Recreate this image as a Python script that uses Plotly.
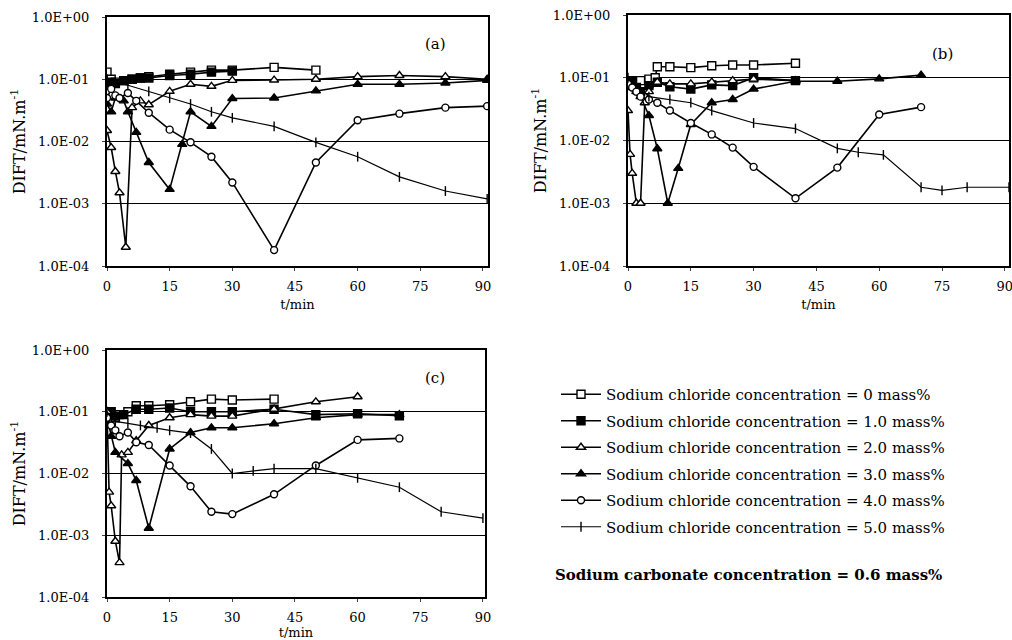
import plotly.graph_objects as go

names = ["Sodium chloride concentration = 0 mass%",
         "Sodium chloride concentration = 1.0 mass%",
         "Sodium chloride concentration = 2.0 mass%",
         "Sodium chloride concentration = 3.0 mass%",
         "Sodium chloride concentration = 4.0 mass%",
         "Sodium chloride concentration = 5.0 mass%"]

# ---- panel (a) ----
a_t0 = [0, 1, 2, 4, 6, 8, 10, 15, 20, 25, 30, 40, 50]
a_v0 = [0.13, 0.1, 0.09, 0.095, 0.1, 0.105, 0.11, 0.12, 0.13, 0.14, 0.14, 0.155, 0.14]
a_t1 = [0, 1, 2, 4, 6, 8, 10, 15, 20, 25, 30]
a_v1 = [0.08, 0.09, 0.085, 0.095, 0.1, 0.105, 0.105, 0.115, 0.12, 0.13, 0.135]
a_t2 = [0, 1, 2, 3, 4.5, 6, 8, 10, 15, 20, 25, 30, 40, 50, 60, 70, 81, 91]
a_v2 = [0.015, 0.008, 0.0033, 0.0015, 0.0002, 0.035, 0.045, 0.039, 0.064, 0.083, 0.077, 0.096, 0.097, 0.1, 0.11, 0.115, 0.11, 0.1]
a_t3 = [0, 1, 2, 4, 5, 7, 10, 15, 18, 20, 25, 30, 40, 50, 60, 70, 81, 91]
a_v3 = [0.04, 0.03, 0.05, 0.045, 0.03, 0.014, 0.0046, 0.0017, 0.009, 0.03, 0.0175, 0.049, 0.05, 0.065, 0.083, 0.083, 0.087, 0.096]
a_t4 = [0, 1, 2, 3, 5, 7, 10, 15, 20, 25, 30, 40, 50, 60, 70, 81, 91]
a_v4 = [0.05, 0.07, 0.055, 0.05, 0.06, 0.045, 0.029, 0.0155, 0.0097, 0.0057, 0.0022, 0.00018, 0.0046, 0.022, 0.028, 0.035, 0.037]
a_t5 = [0, 2, 5, 10, 15, 20, 25, 30, 40, 50, 60, 70, 81, 91]
a_v5 = [0.1, 0.09, 0.08, 0.064, 0.05, 0.04, 0.03, 0.024, 0.0175, 0.0097, 0.0057, 0.0027, 0.0016, 0.0012]

# ---- panel (b) ----
b_t0 = [0, 1, 2, 3, 5, 6.5, 7, 10, 15, 20, 25, 30, 40]
b_v0 = [0.09, 0.08, 0.085, 0.09, 0.095, 0.1, 0.15, 0.15, 0.145, 0.155, 0.16, 0.16, 0.17]
b_t1 = [0, 1, 2, 3, 5, 7, 10, 15, 20, 25, 30, 40]
b_v1 = [0.08, 0.09, 0.07, 0.06, 0.075, 0.085, 0.072, 0.066, 0.077, 0.075, 0.1, 0.09]
b_t2 = [0, 0.5, 1, 2, 3, 4, 5, 7, 10, 15, 20, 25, 30, 40]
b_v2 = [0.03, 0.006, 0.003, 0.001, 0.001, 0.04, 0.06, 0.085, 0.08, 0.08, 0.085, 0.09, 0.095, 0.09]
b_t3 = [0, 1, 2, 3, 5, 7, 9.5, 12, 15, 20, 25, 30, 40, 50, 60, 70]
b_v3 = [0.08, 0.07, 0.06, 0.05, 0.025, 0.0074, 0.001, 0.0036, 0.018, 0.04, 0.045, 0.066, 0.088, 0.088, 0.096, 0.11]
b_t4 = [0, 1, 2, 3, 5, 7, 10, 15, 20, 25, 30, 40, 50, 60, 70]
b_v4 = [0.08, 0.07, 0.06, 0.05, 0.045, 0.04, 0.03, 0.019, 0.0125, 0.0077, 0.0038, 0.0012, 0.0037, 0.026, 0.034]
b_t5 = [0, 2, 5, 10, 15, 20, 30, 40, 50, 55, 61, 70, 75, 81, 91]
b_v5 = [0.1, 0.08, 0.05, 0.045, 0.04, 0.03, 0.019, 0.0155, 0.0075, 0.0065, 0.0059, 0.0018, 0.0016, 0.0018, 0.0018]

# ---- panel (c) ----
c_t0 = [0, 1, 2, 3, 5, 7, 10, 15, 20, 25, 30, 40]
c_v0 = [0.1, 0.09, 0.08, 0.09, 0.1, 0.125, 0.125, 0.13, 0.145, 0.16, 0.155, 0.16]
c_t1 = [0, 1, 2, 4, 7, 10, 15, 20, 25, 30, 40, 50, 60, 70]
c_v1 = [0.09, 0.1, 0.085, 0.09, 0.11, 0.11, 0.115, 0.1, 0.1, 0.1, 0.11, 0.09, 0.093, 0.086]
c_t2 = [0, 0.5, 1, 2, 3, 3.5, 5, 7, 10, 15, 20, 25, 30, 40, 50, 60]
c_v2 = [0.1, 0.005, 0.003, 0.0008, 0.00036, 0.02, 0.022, 0.034, 0.06, 0.08, 0.09, 0.085, 0.085, 0.11, 0.145, 0.175]
c_t3 = [0, 1, 2, 5, 7, 10, 15, 20, 25, 30, 40, 50, 60, 70]
c_v3 = [0.08, 0.04, 0.022, 0.0145, 0.0077, 0.0013, 0.025, 0.046, 0.055, 0.055, 0.064, 0.08, 0.09, 0.09]
c_t4 = [0, 1, 2, 3, 5, 7, 10, 15, 20, 25, 30, 40, 50, 60, 70]
c_v4 = [0.08, 0.06, 0.05, 0.04, 0.046, 0.032, 0.029, 0.0135, 0.0062, 0.0024, 0.0022, 0.0046, 0.0135, 0.035, 0.037]
c_t5 = [0, 2, 5, 8, 12, 15, 20, 25, 30, 35, 40, 50, 60, 70, 80, 90]
c_v5 = [0.1, 0.07, 0.065, 0.06, 0.055, 0.05, 0.045, 0.025, 0.01, 0.011, 0.012, 0.012, 0.0085, 0.006, 0.0024, 0.0019]

panels = [
    ("x", "y", [(a_t0, a_v0), (a_t1, a_v1), (a_t2, a_v2), (a_t3, a_v3), (a_t4, a_v4), (a_t5, a_v5)]),
    ("x2", "y2", [(b_t0, b_v0), (b_t1, b_v1), (b_t2, b_v2), (b_t3, b_v3), (b_t4, b_v4), (b_t5, b_v5)]),
    ("x3", "y3", [(c_t0, c_v0), (c_t1, c_v1), (c_t2, c_v2), (c_t3, c_v3), (c_t4, c_v4), (c_t5, c_v5)]),
]

symbols = ["square", "square", "triangle-up", "triangle-up", "circle", "line-ns-open"]
fills = ["white", "black", "white", "black", "white", "black"]
sizes = [8, 8, 8, 8, 7, 7]

W, H = 1012, 640
fig = go.Figure()
for pi, (xa, ya, series) in enumerate(panels):
    for si, (t, v) in enumerate(series):
        fig.add_trace(go.Scatter(
            x=t, y=v, xaxis=xa, yaxis=ya, mode="lines+markers",
            name=names[si], legendgroup=f"g{si}", showlegend=(pi == 0),
            line=dict(color="black", width=1.6 if si < 5 else 1.2),
            marker=dict(symbol=symbols[si], size=sizes[si], color=fills[si],
                        line=dict(color="black", width=1.4)),
        ))

font_fam = "DejaVu Serif"


def xdom(l, r):
    return [l / W, r / W]


def ydom(t, b):
    return [1 - b / H, 1 - t / H]


boxes = {"a": (107, 488, 17, 266, 91.2), "b": (628, 1009, 15, 266, 91.0), "c": (107, 485, 350, 597, 90.5)}
ytv = [1, 0.1, 0.01, 0.001, 0.0001]
ytt = ["1.0E+00", "1.0E-01", "1.0E-02", "1.0E-03", "1.0E-04"]
xtv = [0, 15, 30, 45, 60, 75, 90]

layout = dict(width=W, height=H, margin=dict(l=0, r=0, t=0, b=0, autoexpand=False),
              paper_bgcolor="white", plot_bgcolor="white",
              font=dict(family=font_fam, color="black", size=12), showlegend=True)
for key, suf in zip(["a", "b", "c"], ["", "2", "3"]):
    l, r, t, b, xr = boxes[key]
    layout["xaxis" + suf] = dict(domain=xdom(l, r), range=[0, xr], anchor="y" + suf,
                                 tickvals=xtv, ticks="outside", ticklen=3, showgrid=False,
                                 showline=True, linecolor="black", linewidth=2, mirror=True,
                                 zeroline=False, automargin=False, ticklabelstandoff=4,
                                 ticklabeloverflow="allow",
                                 tickfont=dict(size=13, family=font_fam),
                                 title=dict(text="t/min", font=dict(size=13, family=font_fam), standoff=7))
    layout["yaxis" + suf] = dict(domain=ydom(t, b), type="log", range=[-4, 0], anchor="x" + suf,
                                 tickvals=ytv, ticktext=ytt, ticks="outside", ticklen=3,
                                 showgrid=True, gridcolor="black", gridwidth=1,
                                 showline=True, linecolor="black", linewidth=2, mirror=True,
                                 zeroline=False, automargin=False, ticklabelstandoff=10,
                                 tickfont=dict(size=13, family=font_fam),
                                 title=dict(text="DIFT/mN.m<sup>-1</sup>", font=dict(size=16, family=font_fam), standoff=2))

fig.update_layout(**layout)

fig.update_layout(legend=dict(x=556 / W, y=1 - 378 / H, xanchor="left", yanchor="top",
                              font=dict(size=15, family=font_fam), tracegroupgap=4, itemwidth=40,
                              bgcolor="rgba(0,0,0,0)", traceorder="grouped"))

labels = [("(a)", 435, 33), ("(b)", 955, 43), ("(c)", 435, 378)]
for txt, px, py in labels:
    fig.add_annotation(text=txt, x=px / W, y=1 - py / H, xref="paper", yref="paper",
                       showarrow=False, font=dict(size=15, family=font_fam))

fig.add_annotation(text="<b>Sodium carbonate concentration = 0.6 mass%</b>",
                   x=553 / W, y=1 - 586 / H, xref="paper", yref="paper", xanchor="left",
                   showarrow=False, font=dict(size=15, family=font_fam))

fig.write_html("out.html")
